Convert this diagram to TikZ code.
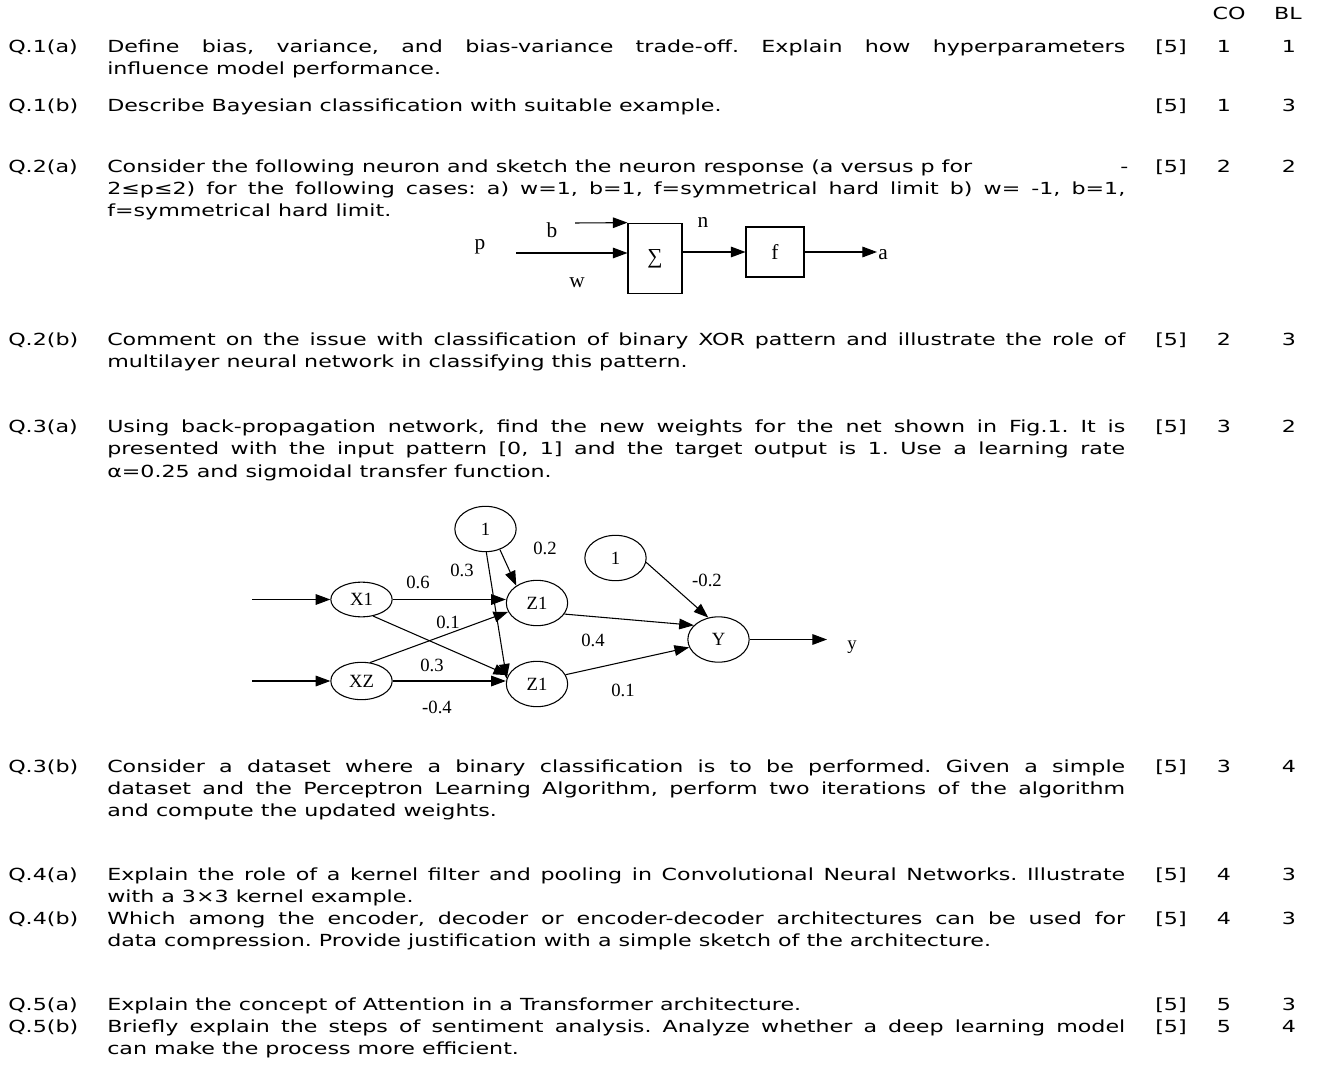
\documentclass[tikz,border=0pt]{standalone}
\usepackage{fontspec}
\setmainfont{DejaVu Sans}[FakeStretch=1.33]
\newfontfamily\figfont{Liberation Serif}
\usetikzlibrary{arrows.meta, shapes.geometric}

% full (justified) line of a question
\newcommand{\fl}[1]{\makebox[763.5pt][s]{#1}}
\frenchspacing

\begin{document}
\begin{tikzpicture}[x=0.75pt, y=-0.75pt,
    font=\fontsize{12.5}{15}\selectfont,
    txt/.style={anchor=base west, inner sep=0pt},
    num/.style={anchor=base, inner sep=0pt},
    lbl/.style={inner sep=0pt, font=\figfont\fontsize{16}{18}\selectfont},
    wt/.style={inner sep=0pt, font=\figfont\fontsize{14}{16}\selectfont},
    neu/.style={draw, ellipse, inner sep=0pt, line width=0.8pt, minimum width=46pt, minimum height=34pt, font=\figfont\fontsize{14}{16}\selectfont},
    blk/.style={draw, inner sep=0pt, line width=0.8pt, font=\figfont\fontsize{16}{18}\selectfont},
    arr/.style={-{Triangle[length=11pt,width=8pt]}, line width=0.8pt}
]
\useasboundingbox (0,0) rectangle (1321,1080);

% --- Header and marks ---
\node[num] (hco) at (1229,20) {CO};
\node[num] (hbl) at (1288,20) {BL};
\foreach \yy/\q/\co/\bl [count=\i] in {53/1(a)/1/1, 112/1(b)/1/3, 173/2(a)/2/2, 346/2(b)/2/3,
    433/3(a)/3/2, 772/3(b)/3/4, 880/4(a)/4/3, 924/4(b)/4/3, 1010/5(a)/5/3, 1032/5(b)/5/4}{
  \node[txt] (q\i) at (8,\yy) {Q.\q};
  \node[txt] (mk\i) at (1155,\yy) {[5]};
  \node[num] (co\i) at (1224,\yy) {\co};
  \node[num] (bl\i) at (1289,\yy) {\bl};
}

% --- Question texts ---
\node[txt] (t1a) at (107,53) {\fl{Define bias, variance, and bias-variance trade-off. Explain how hyperparameters}};
\node[txt] (t1a2) at (107,75) {influence model performance.};
\node[txt] (t1b) at (107,112) {Describe Bayesian classification with suitable example.};

\node[txt] (t2a) at (107,173) {Consider the following neuron and sketch the neuron response (a versus p for};
\node[txt] (t2ad) at (1120,173) {-};
\node[txt] (t2a2) at (107,195) {\fl{2≤p≤2) for the following cases: a) w=1, b=1, f=symmetrical hard limit b) w= -1, b=1,}};
\node[txt] (t2a3) at (107,217) {f=symmetrical hard limit.};

\node[txt] (t2b) at (107,346) {\fl{Comment on the issue with classification of binary XOR pattern and illustrate the role of}};
\node[txt] (t2b2) at (107,368) {multilayer neural network in classifying this pattern.};

\node[txt] (t3a) at (107,433) {\fl{Using back-propagation network, find the new weights for the net shown in Fig.1. It is}};
\node[txt] (t3a2) at (107,455) {\fl{presented with the input pattern [0, 1] and the target output is 1. Use a learning rate}};
\node[txt] (t3a3) at (107,477) {α=0.25 and sigmoidal transfer function.};

\node[txt] (t3b) at (107,772) {\fl{Consider a dataset where a binary classification is to be performed. Given a simple}};
\node[txt] (t3b2) at (107,794) {\fl{dataset and the Perceptron Learning Algorithm, perform two iterations of the algorithm}};
\node[txt] (t3b3) at (107,816) {and compute the updated weights.};

\node[txt] (t4a) at (107,880) {\fl{Explain the role of a kernel filter and pooling in Convolutional Neural Networks. Illustrate}};
\node[txt] (t4a2) at (107,902) {with a 3×3 kernel example.};
\node[txt] (t4b) at (107,924) {\fl{Which among the encoder, decoder or encoder-decoder architectures can be used for}};
\node[txt] (t4b2) at (107,946) {data compression. Provide justification with a simple sketch of the architecture.};

\node[txt] (t5a) at (107,1010) {Explain the concept of Attention in a Transformer architecture.};
\node[txt] (t5b) at (107,1032) {\fl{Briefly explain the steps of sentiment analysis. Analyze whether a deep learning model}};
\node[txt] (t5b2) at (107,1054) {can make the process more efficient.};

% --- Neuron (Q.2a) ---
\node[blk, minimum width=40.5pt, minimum height=53pt] (sum) at (655,258.5) {∑};
\node[blk, minimum width=43.5pt, minimum height=37.5pt] (f) at (775,252) {f};
\coordinate (bin) at (575,223);
\coordinate (pin) at (516,253);
\coordinate (aout) at (877,252);
\node[lbl] (lb) at (552,230) {b};
\node[lbl] (lp) at (480,247) {p};
\node[lbl] (lw) at (577,283) {w};
\node[lbl] (ln) at (703,222) {n};
\node[lbl, anchor=west] (la) at (878,255) {a};
\draw[arr] (bin) -- (sum.north west);
\draw[arr] (pin) -- (pin -| sum.west);
\draw[arr] (f.west -| sum.east) -- (f.west);
\draw[arr] (f.east) -- (aout);

% --- Network (Fig.1) ---
\node[neu, minimum height=26pt] (x1) at (361.5,599.5) {X1};
\node[neu, minimum height=28pt] (x2) at (361.5,681) {XZ};
\node[neu] (z1) at (537,603) {Z1};
\node[neu] (z2) at (537,684) {Z1};
\node[neu] (b1) at (485.5,529) {1};
\node[neu] (b2) at (615.5,558) {1};
\node[neu] (yo) at (718.5,639.5) {Y};
\coordinate (in1) at (252,599.5);
\coordinate (in2) at (252,681);
\coordinate (yout) at (827,641);
\draw[arr] (in1) -- (x1.west);
\draw[arr] (in2) -- (x2.west);
\draw[arr] (x1.east) -- (z1.west |- x1.east);
\draw[arr] (x1.-55) -- (z2.163);
\draw[arr] (x2.65) -- (z1.197);
\draw[arr] (x2.east) -- (z2.west |- x2.east);
\draw[arr] (b1.-55) -- (z1.140);
\draw[arr] (b1.-88) -- (z2.170);
\draw[arr] (z1.-22) -- (yo.150);
\draw[arr] (z2.18) -- (yo.195);
\draw[arr] (b2.-8) -- (yo.115);
\draw[arr] (yo.east) -- (yout |- yo.east);
\node[wt] (w1) at (418,582) {0.6};
\node[wt] (w2) at (462,570) {0.3};
\node[wt] (w3) at (545,548) {0.2};
\node[wt] (w4) at (448,622) {0.1};
\node[wt] (w5) at (432,665) {0.3};
\node[wt] (w6) at (437,707) {-0.4};
\node[wt] (w7) at (593,640) {0.4};
\node[wt] (w8) at (623,690) {0.1};
\node[wt] (w9) at (707,580) {-0.2};
\node[wt] (ly) at (852,647) {y};

\end{tikzpicture}
\end{document}
